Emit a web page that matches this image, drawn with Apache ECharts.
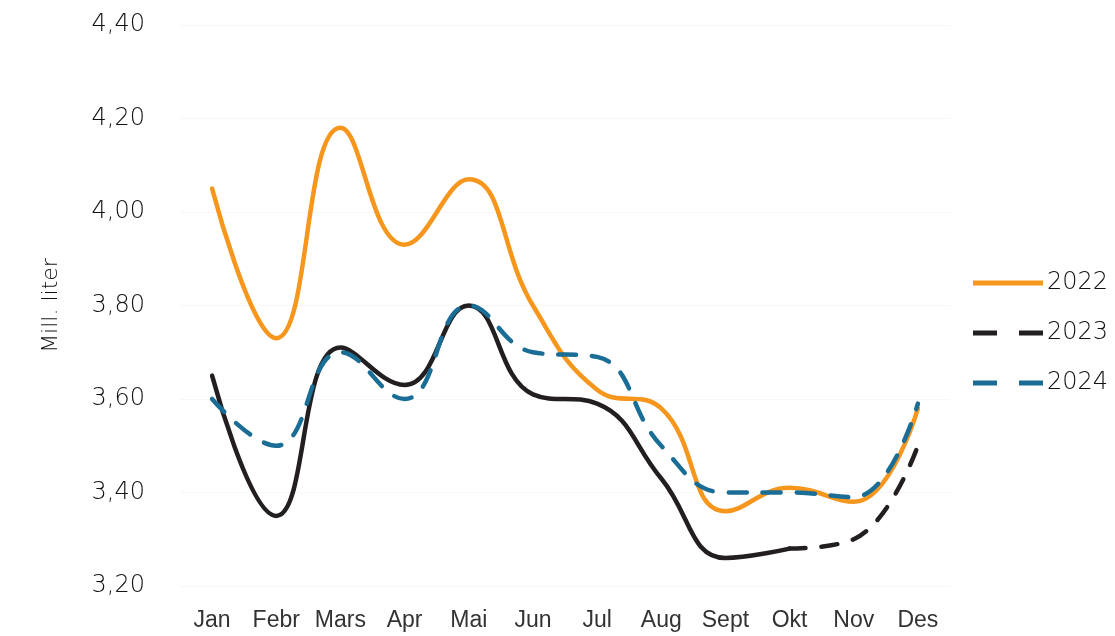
<!DOCTYPE html>
<html>
<head>
<meta charset="utf-8">
<script src="https://cdn.jsdelivr.net/npm/echarts@6/dist/echarts.min.js"></script>
<style>
  html, body { margin: 0; padding: 0; background: #fff; }
  #chart { width: 1115px; height: 636px; }
</style>
</head>
<body>
<div id="chart"></div>
<script>
// måneder og verdier (mill. liter), lest av figuren
const months = ['Jan', 'Febr', 'Mars', 'Apr', 'Mai', 'Jun', 'Jul', 'Aug', 'Sept', 'Okt', 'Nov', 'Des'];
const y2022 = [4.05, 3.73, 4.18, 3.93, 4.07, 3.80, 3.62, 3.58, 3.36, 3.41, 3.38, 3.58];
const y2023 = [3.65, 3.35, 3.71, 3.63, 3.80, 3.61, 3.59, 3.43, 3.26, 3.28, null, null];
const y2023est = [null, null, null, null, null, null, null, null, null, 3.28, 3.30, 3.50];
const y2024 = [3.60, 3.50, 3.70, 3.60, 3.80, 3.70, 3.69, 3.50, 3.40, 3.40, 3.39, 3.59];
const yTicks = { min: 3.2, max: 4.4, step: 0.2 };

const C = { orange: '#f7961c', ink: '#231f20', teal: '#1a6d95', text: '#333333', thin: '#111111' };
const WIDE = '"DejaVu Sans", Verdana, sans-serif';
const FONT = '"Liberation Sans", Arial, sans-serif';
const ICON_SOLID = 'path://M0,0H70V5H0Z';
const ICON_DASH = 'path://M0,0H24V5H0Z M46,0H70V5H46Z';

const chart = echarts.init(document.getElementById('chart'));
const line = (name, data, color, type) => ({
  name, type: 'line', data, smooth: 0.45, symbol: 'none', connectNulls: false,
  lineStyle: { color, width: 4.5, type: type || 'solid', cap: 'round' },
  itemStyle: { color },
});

chart.setOption({
  animation: false,
  grid: { left: 180, right: 165, top: 25, bottom: 50 },
  legend: {
    orient: 'vertical', left: 968, top: 266, itemGap: 26,
    itemWidth: 70, itemHeight: 5,
    data: [
      { name: '2022', icon: ICON_SOLID },
      { name: '2023', icon: ICON_DASH },
      { name: '2024', icon: ICON_DASH },
    ],
    textStyle: { color: C.thin, fontFamily: WIDE, fontWeight: 200, fontSize: 24, padding: [0, 0, 0, -1] },
  },
  xAxis: {
    type: 'category', data: months, boundaryGap: true,
    axisLine: { show: false }, axisTick: { show: false },
    axisLabel: { interval: 0, color: C.text, fontFamily: FONT, fontSize: 23, margin: 23 },
  },
  yAxis: {
    type: 'value', min: yTicks.min, max: yTicks.max, interval: yTicks.step,
    name: 'Mill. liter', nameLocation: 'middle', nameGap: 118, nameRotate: 90,
    nameTextStyle: { color: C.thin, fontFamily: WIDE, fontWeight: 200, fontSize: 22 },
    axisLine: { show: false }, axisTick: { show: false },
    axisLabel: { color: C.thin, fontFamily: WIDE, fontWeight: 200, fontSize: 24, margin: 35,
      formatter: (v) => v.toFixed(2).replace('.', ',') },
    splitLine: { lineStyle: { color: '#f6f6f6', width: 1 } },
  },
  series: [
    line('2022', y2022, C.orange),
    line('2023 ', y2023, C.ink),
    line('2023', y2023est, C.ink, [16, 16]),
    line('2024', y2024, C.teal, [18, 16]),
  ],
});
</script>
</body>
</html>
